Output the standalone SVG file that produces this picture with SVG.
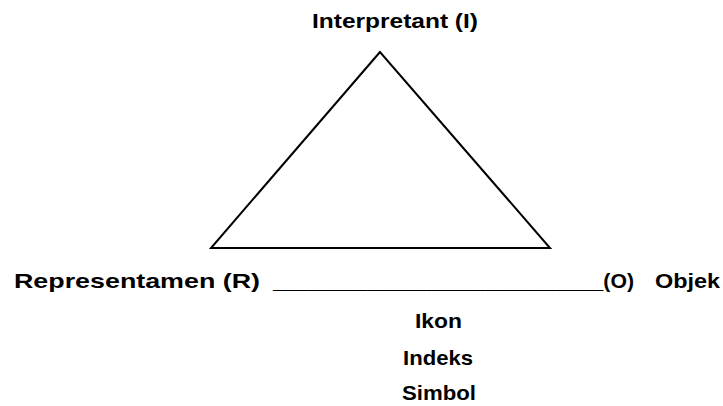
<svg xmlns="http://www.w3.org/2000/svg" width="723" height="406" viewBox="0 0 723 406">
<style>
text{font-family:"Liberation Sans",Arial,sans-serif;font-weight:bold;font-size:21px;fill:#000}
.edge{fill:none;stroke:#000;stroke-width:2;stroke-linejoin:miter}
</style>
<rect width="723" height="406" fill="#fff"/>
<g id="connectors">
<polygon class="edge" points="380,52 211,248 550,248"/>
</g>
<g id="node-interpretant">
<text x="312" y="28" textLength="166" lengthAdjust="spacingAndGlyphs">Interpretant (I)</text>
</g>
<g id="node-representamen">
<text x="14" y="288" textLength="246" lengthAdjust="spacingAndGlyphs">Representamen (R)</text>
</g>
<g id="node-objek">
<text x="273" y="288" textLength="361" lengthAdjust="spacingAndGlyphs">____________________________(O)</text>
<text x="655" y="288" textLength="65" lengthAdjust="spacingAndGlyphs">Objek</text>
</g>
<g id="node-types">
<text x="415" y="328" textLength="47" lengthAdjust="spacingAndGlyphs">Ikon</text>
<text x="403" y="365" textLength="70" lengthAdjust="spacingAndGlyphs">Indeks</text>
<text x="402" y="400" textLength="74" lengthAdjust="spacingAndGlyphs">Simbol</text>
</g>
</svg>
